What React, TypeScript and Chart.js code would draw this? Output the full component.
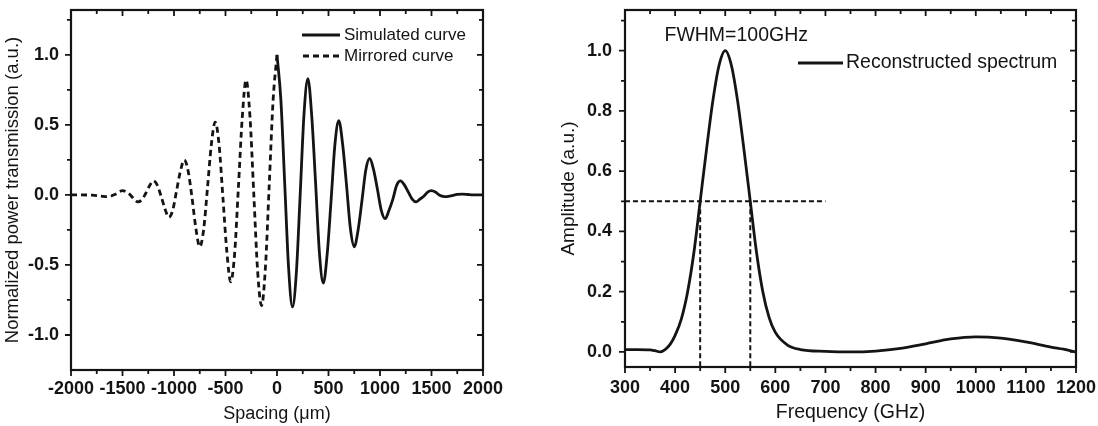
import React, { useEffect, useRef } from "react";
import { Chart, registerables } from "chart.js";

Chart.register(...registerables);

// ---------------- Left panel data ----------------
const simulatedX = [
  0, 37.5, 75, 112.5, 150, 187.5, 225, 262.5, 300, 337.5, 375, 412.5, 450, 487.5, 525, 562.5, 600, 637.5, 675, 712.5,
  750, 787.5, 825, 862.5, 900, 937.5, 975, 1012.5, 1050, 1087.5, 1125, 1162.5, 1200, 1237.5, 1275, 1312.5, 1350,
  1387.5, 1425, 1462.5, 1500, 1537.5, 1575, 1612.5, 1650, 1700, 1750, 1800, 1850, 1900, 2000,
];
const simulatedY = [
  1.0, 0.68, 0.08, -0.52, -0.8, -0.56, 0.0, 0.58, 0.83, 0.56, 0.08, -0.42, -0.63, -0.42, -0.04, 0.36, 0.53, 0.36, 0.07,
  -0.24, -0.37, -0.25, -0.04, 0.18, 0.26, 0.18, 0.04, -0.11, -0.17, -0.11, -0.03, 0.07, 0.1, 0.07, 0.02, -0.03, -0.05,
  -0.03, -0.01, 0.02, 0.03, 0.02, 0.0, -0.01, -0.012, -0.005, 0.003, 0.005, 0.003, 0.0, 0.0,
];
const mirroredX = [
  -2000, -1900, -1800, -1725, -1687.5, -1650, -1612.5, -1575, -1537.5, -1500, -1462.5, -1425, -1387.5, -1350, -1312.5,
  -1275, -1237.5, -1200, -1162.5, -1125, -1087.5, -1050, -1012.5, -975, -937.5, -900, -862.5, -825, -787.5, -750,
  -712.5, -675, -637.5, -600, -562.5, -525, -487.5, -450, -412.5, -375, -337.5, -300, -262.5, -225, -187.5, -150,
  -112.5, -75, -37.5, 0,
];
const mirroredY = [
  0.0, 0.0, -0.002, -0.006, -0.01, -0.012, -0.008, 0.002, 0.02, 0.03, 0.02, 0.0, -0.03, -0.05, -0.035, 0.01, 0.065,
  0.1, 0.07, -0.01, -0.1, -0.16, -0.11, 0.03, 0.17, 0.25, 0.17, -0.02, -0.24, -0.37, -0.25, 0.05, 0.36, 0.52, 0.36,
  -0.02, -0.4, -0.62, -0.43, 0.05, 0.55, 0.82, 0.56, 0.0, -0.55, -0.79, -0.52, 0.08, 0.68, 1.0,
];
const leftXTicks = [-2000, -1500, -1000, -500, 0, 500, 1000, 1500, 2000];
const leftXMinor = [-1750, -1250, -750, -250, 250, 750, 1250, 1750];
const leftYTicks = [-1.0, -0.5, 0.0, 0.5, 1.0];
const leftYMinor = [-0.75, -0.25, 0.25, 0.75, 1.25];

// ---------------- Right panel data ----------------
const spectrumX = [
  300, 325, 350, 360, 370, 380, 390, 400, 412.5, 425, 437.5, 450, 462.5, 475, 487.5, 500, 512.5, 525, 537.5, 550,
  562.5, 575, 587.5, 600, 625, 650, 700, 750, 800, 850, 900, 950, 1000, 1050, 1100, 1150, 1175, 1200,
];
const spectrumY = [
  0.008, 0.008, 0.007, 0.004, 0.0, 0.008, 0.025, 0.055, 0.11, 0.2, 0.33, 0.5, 0.67, 0.83, 0.95, 1.0, 0.95, 0.83, 0.67,
  0.5, 0.33, 0.2, 0.115, 0.065, 0.022, 0.008, 0.002, 0.0, 0.003, 0.012, 0.027, 0.043, 0.05, 0.046, 0.033, 0.016, 0.009,
  0.0,
];
const halfMaxLevel = 0.5;
const halfMaxLineX = [300, 700];
const fwhmEdgesX = [450, 550];
const rightXTicks = [300, 400, 500, 600, 700, 800, 900, 1000, 1100, 1200];
const rightXMinor = [350, 450, 550, 650, 750, 850, 950, 1050, 1150];
const rightYTicks = [0.0, 0.2, 0.4, 0.6, 0.8, 1.0];
const rightYMinor = [0.1, 0.3, 0.5, 0.7, 0.9, 1.1];

const FONT = "'Liberation Sans', Arial, Helvetica, sans-serif";
const INK = "#141414";

type FrameCfg = {
  xMajor: number[];
  xMinor: number[];
  yMajor: number[];
  yMinor: number[];
  legend: { ds: number; x0: number; x1: number; y: number; tx: number; size: number }[];
  notes?: { text: string; x: number; y: number; size: number }[];
};

function makeFramePlugin(cfg: FrameCfg) {
  return {
    id: "frameTicks",
    afterDraw(chart: any) {
      const { ctx, chartArea } = chart;
      const xs = chart.scales.x;
      const ys = chart.scales.y;
      const { left, right, top, bottom } = chartArea;
      ctx.save();
      ctx.strokeStyle = INK;
      ctx.lineWidth = 2.2;
      ctx.strokeRect(left, top, right - left, bottom - top);
      ctx.lineWidth = 1.8;
      const major = 6;
      const minor = 4;
      const xt = (vals: number[], len: number) => {
        vals.forEach((v) => {
          const px = xs.getPixelForValue(v);
          ctx.beginPath();
          ctx.moveTo(px, bottom);
          ctx.lineTo(px, bottom + len);
          ctx.moveTo(px, top);
          ctx.lineTo(px, top + len);
          ctx.stroke();
        });
      };
      const yt = (vals: number[], len: number) => {
        vals.forEach((v) => {
          const py = ys.getPixelForValue(v);
          ctx.beginPath();
          ctx.moveTo(left - len, py);
          ctx.lineTo(left, py);
          ctx.moveTo(right - len, py);
          ctx.lineTo(right, py);
          ctx.stroke();
        });
      };
      xt(cfg.xMajor, major);
      xt(cfg.xMinor, minor);
      yt(cfg.yMajor, major);
      yt(cfg.yMinor, minor);

      // legend
      cfg.legend.forEach((item) => {
        const ds = chart.data.datasets[item.ds];
        ctx.save();
        ctx.strokeStyle = ds.borderColor;
        ctx.lineWidth = ds.borderWidth;
        ctx.setLineDash(ds.borderDash || []);
        ctx.beginPath();
        ctx.moveTo(item.x0, item.y);
        ctx.lineTo(item.x1, item.y);
        ctx.stroke();
        ctx.restore();
        ctx.fillStyle = INK;
        ctx.font = `${item.size}px ${FONT}`;
        ctx.textAlign = "left";
        ctx.textBaseline = "middle";
        ctx.fillText(ds.label, item.tx, item.y);
      });
      (cfg.notes || []).forEach((n) => {
        ctx.fillStyle = INK;
        ctx.font = `${n.size}px ${FONT}`;
        ctx.textAlign = "center";
        ctx.textBaseline = "middle";
        ctx.fillText(n.text, xs.getPixelForValue(n.x), ys.getPixelForValue(n.y));
      });
      ctx.restore();
    },
  };
}

function pts(xs: number[], ys: number[]) {
  return xs.map((x, i) => ({ x, y: ys[i] }));
}

const tickFont = { family: FONT, size: 18, weight: "bold" as const };

function leftConfig(): any {
  return {
    type: "line",
    data: {
      datasets: [
        {
          label: "Simulated curve",
          data: pts(simulatedX, simulatedY),
          borderColor: INK,
          borderWidth: 2.8,
          pointRadius: 0,
          cubicInterpolationMode: "monotone",
          fill: false,
        },
        {
          label: "Mirrored curve",
          data: pts(mirroredX, mirroredY),
          borderColor: INK,
          borderWidth: 2.8,
          borderDash: [6, 4],
          pointRadius: 0,
          cubicInterpolationMode: "monotone",
          fill: false,
        },
      ],
    },
    options: {
      responsive: false,
      animation: false,
      events: [],
      layout: { padding: { left: 0, top: 10, right: 47, bottom: 0 } },
      plugins: { legend: { display: false }, tooltip: { enabled: false } },
      scales: {
        x: {
          type: "linear",
          min: -2000,
          max: 2000,
          grid: { display: false, drawTicks: false },
          border: { display: false },
          afterBuildTicks: (s: any) => {
            s.ticks = leftXTicks.map((v) => ({ value: v }));
          },
          afterFit: (s: any) => {
            s.height = 56;
            s.paddingLeft = 0;
            s.paddingRight = 0;
          },
          ticks: {
            padding: 8,
            color: INK,
            font: tickFont,
            maxRotation: 0,
            autoSkip: false,
            callback: (v: number) => String(v),
          },
          title: {
            display: true,
            text: "Spacing (\u03bcm)",
            color: INK,
            font: { family: FONT, size: 18 },
            padding: { top: 0, bottom: 1 },
          },
        },
        y: {
          type: "linear",
          min: -1.25,
          max: 1.32,
          grid: { display: false, drawTicks: false },
          border: { display: false },
          afterBuildTicks: (s: any) => {
            s.ticks = leftYTicks.map((v) => ({ value: v }));
          },
          afterFit: (s: any) => {
            s.width = 71;
            s.paddingTop = 0;
            s.paddingBottom = 0;
          },
          ticks: {
            padding: 12,
            color: INK,
            font: tickFont,
            callback: (v: number) => v.toFixed(1),
          },
          title: {
            display: true,
            text: "Normalized power transmission (a.u.)",
            color: INK,
            font: { family: FONT, size: 18.5 },
            padding: { top: 2, bottom: 0 },
          },
        },
      },
    },
    plugins: [
      makeFramePlugin({
        xMajor: leftXTicks,
        xMinor: leftXMinor,
        yMajor: leftYTicks,
        yMinor: leftYMinor,
        legend: [
          { ds: 0, x0: 302, x1: 340, y: 35, tx: 344, size: 17 },
          { ds: 1, x0: 303, x1: 340, y: 56, tx: 344, size: 17 },
        ],
      }),
    ],
  };
}

function rightConfig(): any {
  return {
    type: "line",
    data: {
      datasets: [
        {
          label: "Reconstructed spectrum",
          data: pts(spectrumX, spectrumY),
          borderColor: INK,
          borderWidth: 2.8,
          pointRadius: 0,
          cubicInterpolationMode: "monotone",
          fill: false,
        },
        {
          label: "",
          data: halfMaxLineX.map((x) => ({ x, y: halfMaxLevel })),
          borderColor: INK,
          borderWidth: 2,
          borderDash: [5, 3],
          pointRadius: 0,
          fill: false,
        },
        {
          label: "",
          data: [
            { x: fwhmEdgesX[0], y: halfMaxLevel },
            { x: fwhmEdgesX[0], y: -0.05 },
          ],
          borderColor: INK,
          borderWidth: 2,
          borderDash: [5, 3],
          pointRadius: 0,
          fill: false,
        },
        {
          label: "",
          data: [
            { x: fwhmEdgesX[1], y: halfMaxLevel },
            { x: fwhmEdgesX[1], y: -0.05 },
          ],
          borderColor: INK,
          borderWidth: 2,
          borderDash: [5, 3],
          pointRadius: 0,
          fill: false,
        },
      ],
    },
    options: {
      responsive: false,
      animation: false,
      events: [],
      layout: { padding: { left: 0, top: 10, right: 22, bottom: 0 } },
      plugins: { legend: { display: false }, tooltip: { enabled: false } },
      scales: {
        x: {
          type: "linear",
          min: 300,
          max: 1200,
          grid: { display: false, drawTicks: false },
          border: { display: false },
          afterBuildTicks: (s: any) => {
            s.ticks = rightXTicks.map((v) => ({ value: v }));
          },
          afterFit: (s: any) => {
            s.height = 59;
            s.paddingLeft = 0;
            s.paddingRight = 0;
          },
          ticks: {
            padding: 10,
            color: INK,
            font: tickFont,
            maxRotation: 0,
            autoSkip: false,
            callback: (v: number) => String(v),
          },
          title: {
            display: true,
            text: "Frequency (GHz)",
            color: INK,
            font: { family: FONT, size: 19.5 },
            padding: { top: 0, bottom: 2 },
          },
        },
        y: {
          type: "linear",
          min: -0.05,
          max: 1.135,
          grid: { display: false, drawTicks: false },
          border: { display: false },
          afterBuildTicks: (s: any) => {
            s.ticks = rightYTicks.map((v) => ({ value: v }));
          },
          afterFit: (s: any) => {
            s.width = 85;
            s.paddingTop = 0;
            s.paddingBottom = 0;
          },
          ticks: {
            padding: 13,
            color: INK,
            font: tickFont,
            callback: (v: number) => v.toFixed(1),
          },
          title: {
            display: true,
            text: "Amplitude (a.u.)",
            color: INK,
            font: { family: FONT, size: 19 },
            padding: { top: 17, bottom: 0 },
          },
        },
      },
    },
    plugins: [
      makeFramePlugin({
        xMajor: rightXTicks,
        xMinor: rightXMinor,
        yMajor: rightYTicks,
        yMinor: rightYMinor,
        legend: [{ ds: 0, x0: 258, x1: 303, y: 63, tx: 306, size: 19.5 }],
        notes: [{ text: "FWHM=100GHz", x: 522, y: 1.05, size: 19.5 }],
      }),
    ],
  };
}

function Panel({ make, left, width }: { make: () => any; left: number; width: number }) {
  const ref = useRef<HTMLCanvasElement>(null);
  useEffect(() => {
    const chart = new Chart(ref.current as HTMLCanvasElement, make());
    return () => chart.destroy();
  }, [make]);
  return (
    <canvas
      ref={ref}
      width={width}
      height={426}
      style={{ position: "absolute", left, top: 0, width, height: 426, display: "block" }}
    />
  );
}

export default function App() {
  return (
    <div
      style={{
        position: "absolute",
        left: 0,
        top: 0,
        width: 1098,
        height: 426,
        background: "#ffffff",
        overflow: "hidden",
      }}
    >
      <Panel make={leftConfig} left={0} width={530} />
      <Panel make={rightConfig} left={540} width={558} />
    </div>
  );
}
